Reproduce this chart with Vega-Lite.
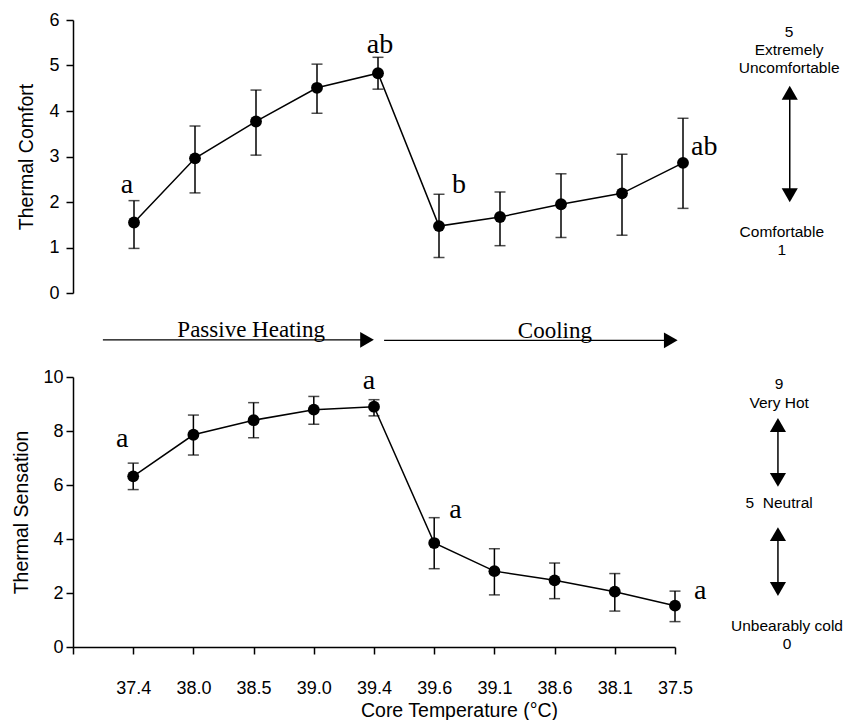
{
  "$schema": "https://vega.github.io/schema/vega-lite/v6.json",
  "background": "white",
  "padding": {"left": 11, "top": 11, "right": 0, "bottom": 0},
  "bounds": "flush",
  "spacing": 84,
  "config": {
    "view": {"stroke": null},
    "font": "Liberation Sans",
    "axis": {
      "labelFont": "Liberation Sans", "labelFontSize": 18, "labelColor": "#000",
      "titleFont": "Liberation Sans", "titleFontSize": 19.5, "titleFontWeight": "normal", "titleColor": "#000",
      "domainColor": "#000", "domainWidth": 1.5, "tickColor": "#000", "tickWidth": 1.5, "tickSize": 7, "grid": false
    }
  },
  "datasets": {
    "comfort": [
      {"idx": 1, "temp": "37.4", "mean": 1.55, "lo": 0.98, "hi": 2.03, "sig": "a"},
      {"idx": 2, "temp": "38.0", "mean": 2.96, "lo": 2.20, "hi": 3.67, "sig": ""},
      {"idx": 3, "temp": "38.5", "mean": 3.77, "lo": 3.03, "hi": 4.46, "sig": ""},
      {"idx": 4, "temp": "39.0", "mean": 4.51, "lo": 3.95, "hi": 5.03, "sig": ""},
      {"idx": 5, "temp": "39.4", "mean": 4.83, "lo": 4.48, "hi": 5.18, "sig": "ab"},
      {"idx": 6, "temp": "39.6", "mean": 1.47, "lo": 0.78, "hi": 2.17, "sig": "b"},
      {"idx": 7, "temp": "39.1", "mean": 1.67, "lo": 1.04, "hi": 2.22, "sig": ""},
      {"idx": 8, "temp": "38.6", "mean": 1.95, "lo": 1.22, "hi": 2.62, "sig": ""},
      {"idx": 9, "temp": "38.1", "mean": 2.19, "lo": 1.27, "hi": 3.05, "sig": ""},
      {"idx": 10, "temp": "37.5", "mean": 2.86, "lo": 1.86, "hi": 3.84, "sig": "ab"}
    ],
    "sensation": [
      {"idx": 1, "temp": "37.4", "mean": 6.32, "lo": 5.83, "hi": 6.81, "sig": "a"},
      {"idx": 2, "temp": "38.0", "mean": 7.86, "lo": 7.11, "hi": 8.59, "sig": ""},
      {"idx": 3, "temp": "38.5", "mean": 8.40, "lo": 7.75, "hi": 9.05, "sig": ""},
      {"idx": 4, "temp": "39.0", "mean": 8.79, "lo": 8.25, "hi": 9.28, "sig": ""},
      {"idx": 5, "temp": "39.4", "mean": 8.90, "lo": 8.56, "hi": 9.16, "sig": "a"},
      {"idx": 6, "temp": "39.6", "mean": 3.85, "lo": 2.90, "hi": 4.79, "sig": "a"},
      {"idx": 7, "temp": "39.1", "mean": 2.81, "lo": 1.93, "hi": 3.64, "sig": ""},
      {"idx": 8, "temp": "38.6", "mean": 2.47, "lo": 1.79, "hi": 3.11, "sig": ""},
      {"idx": 9, "temp": "38.1", "mean": 2.05, "lo": 1.33, "hi": 2.72, "sig": ""},
      {"idx": 10, "temp": "37.5", "mean": 1.53, "lo": 0.94, "hi": 2.07, "sig": "a"}
    ],
    "one": [{}]
  },
  "vconcat": [
    {
      "width": 610,
      "height": 273,
      "data": {"name": "comfort"},
      "layer": [
        {
          "mark": {"type": "rule", "color": "#000", "strokeWidth": 1.5},
          "encoding": {
            "x": {"field": "idx", "type": "quantitative", "scale": {"domain": [0, 10]}, "axis": null},
            "y": {"field": "lo", "type": "quantitative", "scale": {"domain": [0, 6], "nice": false, "zero": false},
                  "axis": {"title": "Thermal Comfort", "values": [0, 1, 2, 3, 4, 5, 6], "format": "d", "labelPadding": 7, "titlePadding": 12}},
            "y2": {"field": "hi"}
          }
        },
        {
          "mark": {"type": "tick", "orient": "horizontal", "size": 11, "thickness": 1.5, "color": "#000"},
          "encoding": {
            "x": {"field": "idx", "type": "quantitative", "axis": null},
            "y": {"field": "hi", "type": "quantitative", "title": "Thermal Comfort"}
          }
        },
        {
          "mark": {"type": "tick", "orient": "horizontal", "size": 11, "thickness": 1.5, "color": "#000"},
          "encoding": {
            "x": {"field": "idx", "type": "quantitative", "axis": null},
            "y": {"field": "lo", "type": "quantitative", "title": "Thermal Comfort"}
          }
        },
        {
          "mark": {"type": "line", "color": "#000", "strokeWidth": 1.5},
          "encoding": {
            "x": {"field": "idx", "type": "quantitative", "axis": null},
            "y": {"field": "mean", "type": "quantitative", "title": "Thermal Comfort"}
          }
        },
        {
          "mark": {"type": "point", "filled": true, "color": "#000", "opacity": 1, "size": 140},
          "encoding": {
            "x": {"field": "idx", "type": "quantitative", "axis": null},
            "y": {"field": "mean", "type": "quantitative", "title": "Thermal Comfort"}
          }
        },
        {
          "transform": [{"filter": {"field": "idx", "equal": 1}}],
          "mark": {"type": "text", "font": "Liberation Serif", "fontSize": 28, "color": "#000", "align": "center", "baseline": "alphabetic", "dx": -7, "dy": -8},
          "encoding": {
            "x": {"field": "idx", "type": "quantitative", "axis": null},
            "y": {"field": "hi", "type": "quantitative", "title": "Thermal Comfort"},
            "text": {"field": "sig"}
          }
        },
        {
          "transform": [{"filter": {"field": "idx", "equal": 5}}],
          "mark": {"type": "text", "font": "Liberation Serif", "fontSize": 28, "color": "#000", "align": "center", "baseline": "alphabetic", "dx": 2, "dy": -4},
          "encoding": {
            "x": {"field": "idx", "type": "quantitative", "axis": null},
            "y": {"field": "hi", "type": "quantitative", "title": "Thermal Comfort"},
            "text": {"field": "sig"}
          }
        },
        {
          "transform": [{"filter": {"field": "idx", "equal": 6}}],
          "mark": {"type": "text", "font": "Liberation Serif", "fontSize": 28, "color": "#000", "align": "left", "baseline": "alphabetic", "dx": 13, "dy": -1},
          "encoding": {
            "x": {"field": "idx", "type": "quantitative", "axis": null},
            "y": {"field": "hi", "type": "quantitative", "title": "Thermal Comfort"},
            "text": {"field": "sig"}
          }
        },
        {
          "transform": [{"filter": {"field": "idx", "equal": 10}}],
          "mark": {"type": "text", "font": "Liberation Serif", "fontSize": 28, "color": "#000", "align": "left", "baseline": "alphabetic", "dx": 8, "dy": -8},
          "encoding": {
            "x": {"field": "idx", "type": "quantitative", "axis": null},
            "y": {"field": "mean", "type": "quantitative", "title": "Thermal Comfort"},
            "text": {"field": "sig"}
          }
        },
        {
          "data": {"name": "one"},
          "mark": {"type": "rule", "color": "#000", "strokeWidth": 1.2},
          "encoding": {
            "x": {"datum": 0.49, "type": "quantitative", "axis": null},
            "x2": {"datum": 4.85},
            "y": {"datum": -1.03, "type": "quantitative", "title": "Thermal Comfort"}
          }
        },
        {
          "data": {"name": "one"},
          "mark": {"type": "point", "shape": "triangle-right", "filled": true, "color": "#000", "opacity": 1, "size": 250},
          "encoding": {
            "x": {"datum": 4.82, "type": "quantitative", "axis": null},
            "y": {"datum": -1.03, "type": "quantitative", "title": "Thermal Comfort"}
          }
        },
        {
          "data": {"name": "one"},
          "mark": {"type": "rule", "color": "#000", "strokeWidth": 1.2},
          "encoding": {
            "x": {"datum": 5.10, "type": "quantitative", "axis": null},
            "x2": {"datum": 9.83},
            "y": {"datum": -1.04, "type": "quantitative", "title": "Thermal Comfort"}
          }
        },
        {
          "data": {"name": "one"},
          "mark": {"type": "point", "shape": "triangle-right", "filled": true, "color": "#000", "opacity": 1, "size": 250},
          "encoding": {
            "x": {"datum": 9.80, "type": "quantitative", "axis": null},
            "y": {"datum": -1.04, "type": "quantitative", "title": "Thermal Comfort"}
          }
        },
        {
          "data": {"name": "one"},
          "mark": {"type": "text", "font": "Liberation Serif", "fontSize": 23, "color": "#000", "align": "center", "baseline": "alphabetic"},
          "encoding": {
            "x": {"datum": 2.92, "type": "quantitative", "axis": null},
            "y": {"datum": -0.967, "type": "quantitative", "title": "Thermal Comfort"},
            "text": {"value": "Passive Heating"}
          }
        },
        {
          "data": {"name": "one"},
          "mark": {"type": "text", "font": "Liberation Serif", "fontSize": 23, "color": "#000", "align": "center", "baseline": "alphabetic"},
          "encoding": {
            "x": {"datum": 7.9, "type": "quantitative", "axis": null},
            "y": {"datum": -0.98, "type": "quantitative", "title": "Thermal Comfort"},
            "text": {"value": "Cooling"}
          }
        },
        {
          "data": {"name": "one"},
          "mark": {"type": "text", "font": "Liberation Sans", "fontSize": 15.5, "lineHeight": 18, "color": "#000", "align": "center", "baseline": "middle"},
          "encoding": {
            "x": {"datum": 11.74, "type": "quantitative", "axis": null},
            "y": {"datum": 5.74, "type": "quantitative", "title": "Thermal Comfort"},
            "text": {"value": ["5", "Extremely", "Uncomfortable"]}
          }
        },
        {
          "data": {"name": "one"},
          "mark": {"type": "text", "font": "Liberation Sans", "fontSize": 15.5, "lineHeight": 18, "color": "#000", "align": "center", "baseline": "middle"},
          "encoding": {
            "x": {"datum": 11.62, "type": "quantitative", "axis": null},
            "y": {"datum": 1.34, "type": "quantitative", "title": "Thermal Comfort"},
            "text": {"value": ["Comfortable", "1"]}
          }
        },
        {
          "data": {"name": "one"},
          "mark": {"type": "rule", "color": "#000", "strokeWidth": 1.5},
          "encoding": {
            "x": {"datum": 11.75, "type": "quantitative", "axis": null},
            "y": {"datum": 4.45, "type": "quantitative", "title": "Thermal Comfort"},
            "y2": {"datum": 2.1}
          }
        },
        {
          "data": {"name": "one"},
          "mark": {"type": "point", "shape": "triangle-up", "filled": true, "color": "#000", "opacity": 1, "size": 260},
          "encoding": {
            "x": {"datum": 11.75, "type": "quantitative", "axis": null},
            "y": {"datum": 4.40, "type": "quantitative", "title": "Thermal Comfort"}
          }
        },
        {
          "data": {"name": "one"},
          "mark": {"type": "point", "shape": "triangle-down", "filled": true, "color": "#000", "opacity": 1, "size": 260},
          "encoding": {
            "x": {"datum": 11.75, "type": "quantitative", "axis": null},
            "y": {"datum": 2.15, "type": "quantitative", "title": "Thermal Comfort"}
          }
        }
      ]
    },
    {
      "width": 602,
      "height": 270,
      "data": {"name": "sensation"},
      "layer": [
        {
          "mark": {"type": "rule", "color": "#000", "strokeWidth": 1.5},
          "encoding": {
            "x": {"field": "idx", "type": "quantitative", "scale": {"domain": [0, 10], "nice": false},
                  "axis": {"title": "Core Temperature (°C)", "values": [0, 1, 2, 3, 4, 5, 6, 7, 8, 9, 10],
                           "labelExpr": "['', '37.4', '38.0', '38.5', '39.0', '39.4', '39.6', '39.1', '38.6', '38.1', '37.5'][datum.value]",
                           "labelPadding": 25, "titlePadding": 4, "labelFlush": false, "labelOverlap": false,
                           "titleX": 386, "titleAlign": "center", "titleAnchor": "start"}},
            "y": {"field": "lo", "type": "quantitative", "scale": {"domain": [0, 10], "nice": false, "zero": false},
                  "axis": {"title": "Thermal Sensation", "values": [0, 2, 4, 6, 8, 10], "format": "d", "labelPadding": 3, "titlePadding": 11}},
            "y2": {"field": "hi"}
          }
        },
        {
          "mark": {"type": "tick", "orient": "horizontal", "size": 11, "thickness": 1.5, "color": "#000"},
          "encoding": {
            "x": {"field": "idx", "type": "quantitative", "title": "Core Temperature (°C)"},
            "y": {"field": "hi", "type": "quantitative", "title": "Thermal Sensation"}
          }
        },
        {
          "mark": {"type": "tick", "orient": "horizontal", "size": 11, "thickness": 1.5, "color": "#000"},
          "encoding": {
            "x": {"field": "idx", "type": "quantitative", "title": "Core Temperature (°C)"},
            "y": {"field": "lo", "type": "quantitative", "title": "Thermal Sensation"}
          }
        },
        {
          "mark": {"type": "line", "color": "#000", "strokeWidth": 1.5},
          "encoding": {
            "x": {"field": "idx", "type": "quantitative", "title": "Core Temperature (°C)"},
            "y": {"field": "mean", "type": "quantitative", "title": "Thermal Sensation"}
          }
        },
        {
          "mark": {"type": "point", "filled": true, "color": "#000", "opacity": 1, "size": 140},
          "encoding": {
            "x": {"field": "idx", "type": "quantitative", "title": "Core Temperature (°C)"},
            "y": {"field": "mean", "type": "quantitative", "title": "Thermal Sensation"}
          }
        },
        {
          "transform": [{"filter": {"field": "idx", "equal": 1}}],
          "mark": {"type": "text", "font": "Liberation Serif", "fontSize": 28, "color": "#000", "align": "center", "baseline": "alphabetic", "dx": -11, "dy": -16},
          "encoding": {
            "x": {"field": "idx", "type": "quantitative", "title": "Core Temperature (°C)"},
            "y": {"field": "hi", "type": "quantitative", "title": "Thermal Sensation"},
            "text": {"field": "sig"}
          }
        },
        {
          "transform": [{"filter": {"field": "idx", "equal": 5}}],
          "mark": {"type": "text", "font": "Liberation Serif", "fontSize": 28, "color": "#000", "align": "center", "baseline": "alphabetic", "dx": -5, "dy": -11},
          "encoding": {
            "x": {"field": "idx", "type": "quantitative", "title": "Core Temperature (°C)"},
            "y": {"field": "hi", "type": "quantitative", "title": "Thermal Sensation"},
            "text": {"field": "sig"}
          }
        },
        {
          "transform": [{"filter": {"field": "idx", "equal": 6}}],
          "mark": {"type": "text", "font": "Liberation Serif", "fontSize": 28, "color": "#000", "align": "left", "baseline": "alphabetic", "dx": 15, "dy": 0},
          "encoding": {
            "x": {"field": "idx", "type": "quantitative", "title": "Core Temperature (°C)"},
            "y": {"field": "hi", "type": "quantitative", "title": "Thermal Sensation"},
            "text": {"field": "sig"}
          }
        },
        {
          "transform": [{"filter": {"field": "idx", "equal": 10}}],
          "mark": {"type": "text", "font": "Liberation Serif", "fontSize": 28, "color": "#000", "align": "left", "baseline": "alphabetic", "dx": 19, "dy": -7},
          "encoding": {
            "x": {"field": "idx", "type": "quantitative", "title": "Core Temperature (°C)"},
            "y": {"field": "mean", "type": "quantitative", "title": "Thermal Sensation"},
            "text": {"field": "sig"}
          }
        },
        {
          "data": {"name": "one"},
          "mark": {"type": "text", "font": "Liberation Sans", "fontSize": 15.5, "lineHeight": 19, "color": "#000", "align": "center", "baseline": "middle"},
          "encoding": {
            "x": {"datum": 11.73, "type": "quantitative", "title": "Core Temperature (°C)"},
            "y": {"datum": 9.74, "type": "quantitative", "title": "Thermal Sensation"},
            "text": {"value": ["9", "Very Hot"]}
          }
        },
        {
          "data": {"name": "one"},
          "mark": {"type": "text", "font": "Liberation Sans", "fontSize": 15.5, "color": "#000", "align": "center", "baseline": "middle"},
          "encoding": {
            "x": {"datum": 11.73, "type": "quantitative", "title": "Core Temperature (°C)"},
            "y": {"datum": 5.33, "type": "quantitative", "title": "Thermal Sensation"},
            "text": {"value": "5\u00a0 Neutral"}
          }
        },
        {
          "data": {"name": "one"},
          "mark": {"type": "text", "font": "Liberation Sans", "fontSize": 15.5, "lineHeight": 18, "color": "#000", "align": "center", "baseline": "middle"},
          "encoding": {
            "x": {"datum": 11.86, "type": "quantitative", "title": "Core Temperature (°C)"},
            "y": {"datum": 0.78, "type": "quantitative", "title": "Thermal Sensation"},
            "text": {"value": ["Unbearably cold", "0"]}
          }
        },
        {
          "data": {"name": "one"},
          "mark": {"type": "rule", "color": "#000", "strokeWidth": 1.5},
          "encoding": {
            "x": {"datum": 11.71, "type": "quantitative", "title": "Core Temperature (°C)"},
            "y": {"datum": 8.35, "type": "quantitative", "title": "Thermal Sensation"},
            "y2": {"datum": 6.05}
          }
        },
        {
          "data": {"name": "one"},
          "mark": {"type": "point", "shape": "triangle-up", "filled": true, "color": "#000", "opacity": 1, "size": 260},
          "encoding": {
            "x": {"datum": 11.71, "type": "quantitative", "title": "Core Temperature (°C)"},
            "y": {"datum": 8.22, "type": "quantitative", "title": "Thermal Sensation"}
          }
        },
        {
          "data": {"name": "one"},
          "mark": {"type": "point", "shape": "triangle-down", "filled": true, "color": "#000", "opacity": 1, "size": 260},
          "encoding": {
            "x": {"datum": 11.71, "type": "quantitative", "title": "Core Temperature (°C)"},
            "y": {"datum": 6.19, "type": "quantitative", "title": "Thermal Sensation"}
          }
        },
        {
          "data": {"name": "one"},
          "mark": {"type": "rule", "color": "#000", "strokeWidth": 1.5},
          "encoding": {
            "x": {"datum": 11.71, "type": "quantitative", "title": "Core Temperature (°C)"},
            "y": {"datum": 4.3, "type": "quantitative", "title": "Thermal Sensation"},
            "y2": {"datum": 2.0}
          }
        },
        {
          "data": {"name": "one"},
          "mark": {"type": "point", "shape": "triangle-up", "filled": true, "color": "#000", "opacity": 1, "size": 260},
          "encoding": {
            "x": {"datum": 11.71, "type": "quantitative", "title": "Core Temperature (°C)"},
            "y": {"datum": 4.18, "type": "quantitative", "title": "Thermal Sensation"}
          }
        },
        {
          "data": {"name": "one"},
          "mark": {"type": "point", "shape": "triangle-down", "filled": true, "color": "#000", "opacity": 1, "size": 260},
          "encoding": {
            "x": {"datum": 11.71, "type": "quantitative", "title": "Core Temperature (°C)"},
            "y": {"datum": 2.15, "type": "quantitative", "title": "Thermal Sensation"}
          }
        }
      ]
    }
  ]
}
